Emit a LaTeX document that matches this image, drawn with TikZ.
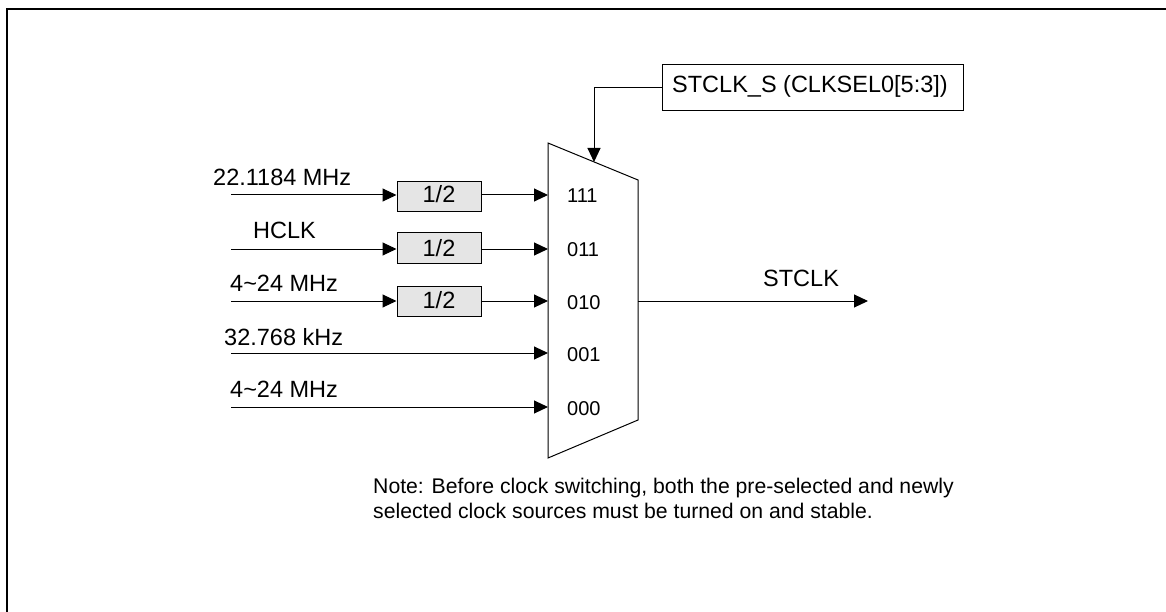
\documentclass[tikz,border=0pt]{standalone}
\usepackage{fontspec}
\setmainfont{Liberation Sans}
\usetikzlibrary{arrows.meta}
\begin{document}
\begin{tikzpicture}[x=1pt,y=-1pt,
  conn/.style={line width=1pt,-{Triangle[length=14pt,width=13pt]}},
  wire/.style={line width=1pt},
  divbox/.style={draw,line width=1pt,fill=black!10,minimum width=84pt,minimum height=30pt,inner sep=0pt},
  lbl/.style={font=\fontsize{23.5}{26}\selectfont,inner sep=0pt,anchor=base west},
  port/.style={font=\fontsize{20}{22}\selectfont,inner sep=0pt,anchor=base west},
  notetext/.style={font=\fontsize{21.2}{25}\selectfont,inner sep=0pt,anchor=base west}]
\useasboundingbox (0,0) rectangle (1166,612);
% frame
\draw[line width=2.5pt] (7,612) -- (7,9) -- (1166,9);
% multiplexer
\coordinate (mtl) at (548,143);
\coordinate (mtr) at (638,180);
\coordinate (mbr) at (638,420);
\coordinate (mbl) at (548,458);
\draw[line width=1pt] (mtl) -- (mtr) -- (mbr) -- (mbl) -- cycle;
% port coordinates
\coordinate (p1) at (548,195);
\coordinate (p2) at (548,249);
\coordinate (p3) at (548,301);
\coordinate (p4) at (548,353);
\coordinate (p5) at (548,407);
\coordinate (pout) at (638,301);
\coordinate (outend) at (868,301);
\coordinate (selin) at (594,162);
% port labels
\node[port] (l111) at (567,203) {111};
\node[port] (l011) at (567,257) {011};
\node[port] (l010) at (567,309) {010};
\node[port] (l001) at (567,361) {001};
\node[port] (l000) at (567,415) {000};
% sources
\coordinate (s1) at (231,195);
\coordinate (s2) at (231,249);
\coordinate (s3) at (231,301);
\coordinate (s4) at (231,353);
\coordinate (s5) at (231,407);
% dividers
\node[divbox] (d1) at (439,197) {};
\node[divbox] (d2) at (439,248) {};
\node[divbox] (d3) at (439,301) {};
\node[lbl,anchor=base] (t1) at (439,203) {1/2};
\node[lbl,anchor=base] (t2) at (439,256) {1/2};
\node[lbl,anchor=base] (t3) at (439,308) {1/2};
% input labels
\node[lbl] (n1) at (213,186) {22.1184 MHz};
\node[lbl] (n2) at (253,239) {HCLK};
\node[lbl] (n3) at (230,291) {4\textasciitilde24 MHz};
\node[lbl] (n4) at (224,345) {32.768 kHz};
\node[lbl] (n5) at (230,397) {4\textasciitilde24 MHz};
% connectors
\draw[conn] (s1) -- (s1 -| d1.west);
\draw[conn] (s2) -- (s2 -| d2.west);
\draw[conn] (s3) -- (s3 -| d3.west);
\draw[conn] (d1.east |- p1) -- (p1);
\draw[conn] (d2.east |- p2) -- (p2);
\draw[conn] (d3.east |- p3) -- (p3);
\draw[conn] (s4) -- (p4);
\draw[conn] (s5) -- (p5);
% output
\draw[conn] (pout) -- (outend);
\node[lbl] (nout) at (763,286) {STCLK};
% select
\node[draw,line width=1pt,minimum width=301pt,minimum height=46pt,inner sep=0pt] (sel) at (812.5,88) {};
\node[lbl] (selt) at (672,93) {STCLK\_S (CLKSEL0[5:3])};
\draw[conn] (sel.west) -- (sel.west -| selin) -- (selin);
% note
\node[notetext] (note1) at (373,493) {Note: Before clock switching, both the pre-selected and newly};
\node[notetext] (note2) at (373,518) {selected clock sources must be turned on and stable.};
\end{tikzpicture}
\end{document}
